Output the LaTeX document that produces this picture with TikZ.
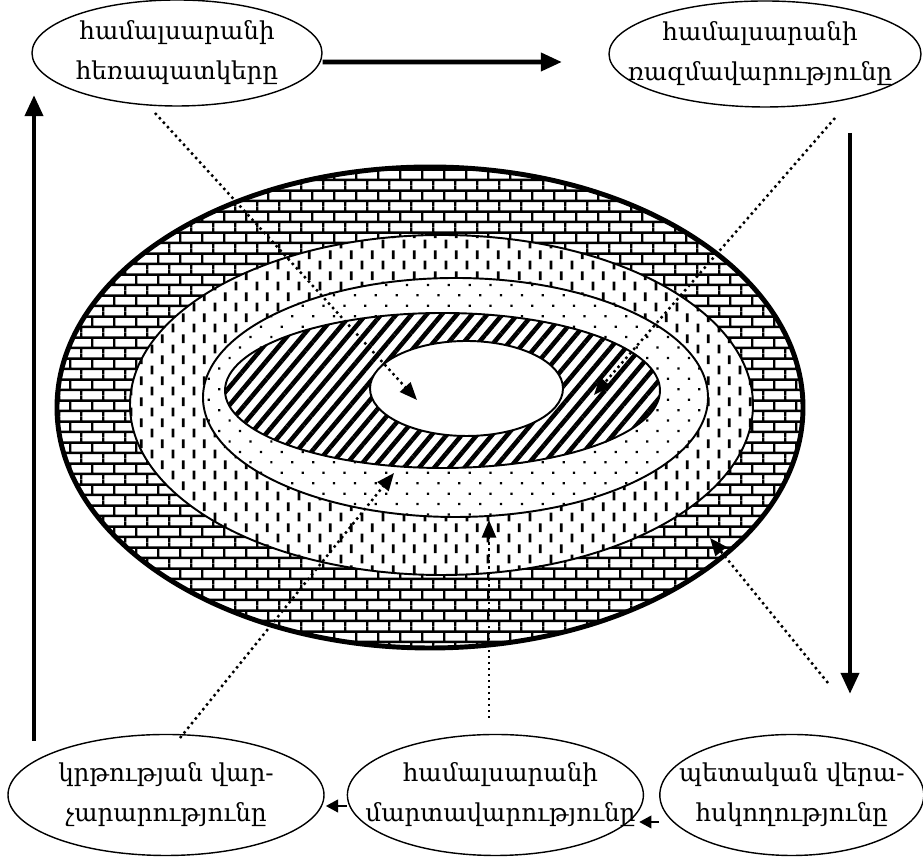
\documentclass[tikz,border=0pt]{standalone}
\usepackage{fontspec}
\setmainfont{DejaVu Serif}
\usetikzlibrary{arrows.meta,positioning,shapes.geometric,patterns,patterns.meta}

\pgfdeclarepatternformonly{unibricks}{\pgfpointorigin}{\pgfpoint{12.5pt}{12.1pt}}{\pgfpoint{12.5pt}{12.1pt}}
{
  \pgfsetlinewidth{1.4pt}
  \pgfpathmoveto{\pgfpoint{0pt}{3pt}}\pgfpathlineto{\pgfpoint{12.5pt}{3pt}}
  \pgfpathmoveto{\pgfpoint{0pt}{9.05pt}}\pgfpathlineto{\pgfpoint{12.5pt}{9.05pt}}
  \pgfpathmoveto{\pgfpoint{3pt}{3pt}}\pgfpathlineto{\pgfpoint{3pt}{9.05pt}}
  \pgfpathmoveto{\pgfpoint{9.25pt}{9.05pt}}\pgfpathlineto{\pgfpoint{9.25pt}{12.1pt}}
  \pgfpathmoveto{\pgfpoint{9.25pt}{0pt}}\pgfpathlineto{\pgfpoint{9.25pt}{3pt}}
  \pgfusepath{stroke}
}
\pgfdeclarepatternformonly{unidashes}{\pgfpointorigin}{\pgfpoint{12pt}{12pt}}{\pgfpoint{12pt}{12pt}}
{
  \pgfsetlinewidth{1.6pt}
  \pgfpathmoveto{\pgfpoint{3pt}{0.4pt}}\pgfpathlineto{\pgfpoint{3pt}{5.6pt}}
  \pgfpathmoveto{\pgfpoint{9pt}{6.4pt}}\pgfpathlineto{\pgfpoint{9pt}{11.6pt}}
  \pgfusepath{stroke}
}

\begin{document}
\begin{tikzpicture}[
  oval/.style={draw, ellipse, line width=0.8pt, inner sep=0pt, minimum height=2.42cm},
  lbl/.style={align=center, inner sep=0pt, font=\fontsize{14}{22.8}\selectfont},
  ring/.style={draw, line width=1.1pt, preaction={fill=white}},
  arr/.style={-{Triangle[length=12pt,width=10pt]}, line width=2.8pt},
  smallarr/.style={-{Triangle[length=7pt,width=7pt]}, line width=1.6pt},
  dotarr/.style={-{Triangle[length=10pt,width=8pt]}, dotted, line width=1.4pt}]
\useasboundingbox (0,0) rectangle (18.46,17.18);
\draw[ring, line width=2.8pt, pattern=unibricks] (8.6,9.03) ellipse (7.46 and 4.81);
\draw[ring, pattern=unidashes] (8.83,9.08) ellipse (6.23 and 3.4);
\draw[ring, pattern={Dots[radius=0.9pt,distance=8.4pt,angle=45]}] (9.11,9.23) ellipse (5.05 and 2.39);
\draw[ring, pattern={Lines[angle=50,distance=6.6pt,line width=2.6pt]}] (8.85,9.37) ellipse (4.35 and 1.55);
\draw[ring] (9.33,9.41) ellipse (1.93 and 0.95);
\node[oval, minimum width=5.8cm, minimum height=2.12cm] (vision) at (3.54,16.12) {};
\node[oval, minimum width=6.24cm, minimum height=2.12cm] (strategy) at (15.3,16.1) {};
\node[oval, minimum width=6.32cm] (education) at (3.32,1.28) {};
\node[oval, minimum width=5.92cm, right=0.44cm of education] (tactics) {};
\node[oval, minimum width=5.28cm, right=0.3cm of tactics] (control) {};
\node[lbl] (vision-t) at (vision) {համալսարանի\\հեռապատկերը};
\node[lbl] (strategy-t) at ([xshift=-0.1cm]strategy) {համալսարանի\\ռազմավարությունը};
\node[lbl] (education-t) at (education) {կրթության  վար-\\չարարությունը};
\node[lbl] (tactics-t) at ([xshift=0.1cm]tactics) {համալսարանի\\մարտավարությունը};
\node[lbl] (control-t) at (control) {պետական վերա-\\հսկողությունը};
\coordinate (strat-in) at (11.24,15.94);
\coordinate (up-from) at (0.68,2.36);
\coordinate (up-to) at (0.68,15.28);
\coordinate (down-from) at (17,14.52);
\coordinate (down-to) at (17,3.3);
\coordinate (d1a) at (3.1,14.92);   \coordinate (d1b) at (8.34,9.18);
\coordinate (d2a) at (16.7,14.82);  \coordinate (d2b) at (11.88,9.28);
\coordinate (d3a) at (3.6,2.42);    \coordinate (d3b) at (7.88,7.72);
\coordinate (d4a) at (9.78,2.82);   \coordinate (d4b) at (9.78,6.78);
\coordinate (d5a) at (16.56,3.52);  \coordinate (d5b) at (14.2,6.42);
\draw[arr] ([yshift=-0.18cm]vision.east) -- (strat-in);
\draw[arr] (up-from) -- (up-to);
\draw[arr] (down-from) -- (down-to);
\draw[smallarr] ([yshift=-0.54cm]control.west) -- ++(-0.4,0);
\draw[smallarr] ([yshift=-0.22cm]tactics.west) -- ++(-0.42,0);
\draw[dotarr] (d1a) -- (d1b);
\draw[dotarr] (d2a) -- (d2b);
\draw[dotarr] (d3a) -- (d3b);
\draw[dotarr] (d4a) -- (d4b);
\draw[dotarr] (d5a) -- (d5b);
\end{tikzpicture}
\end{document}
